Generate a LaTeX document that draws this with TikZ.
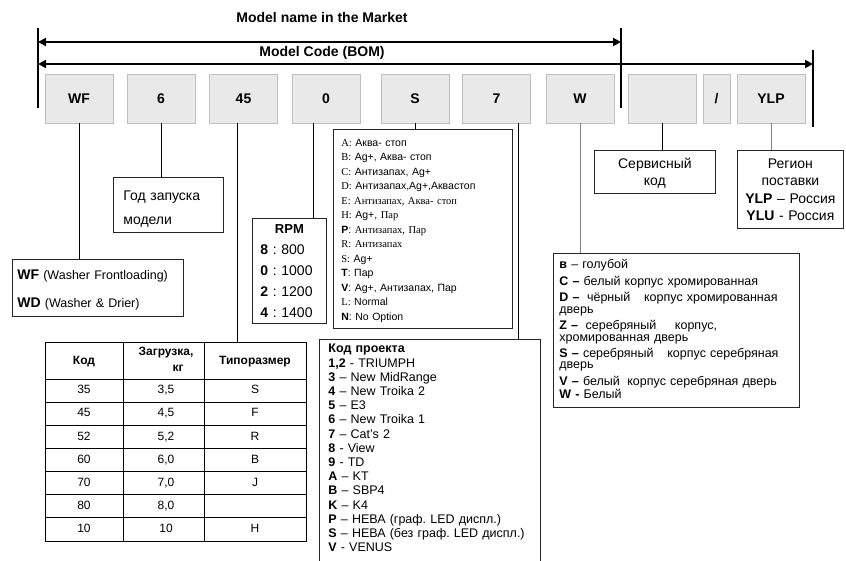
\documentclass[tikz,border=0pt]{standalone}
\usepackage{fontspec}
\setmainfont{Liberation Sans}
\newfontfamily\timesfont{Liberation Serif}
\usetikzlibrary{arrows.meta}
\frenchspacing

\begin{document}
\begin{tikzpicture}[x=1pt,y=-1pt,
  headtext/.style={font=\fontsize{14}{16}\selectfont\bfseries},
  codebox/.style={draw=gray!50,fill=gray!17,minimum width=68pt,minimum height=49pt,inner sep=0pt,
    font=\fontsize{14}{16}\selectfont\bfseries},
  note/.style={draw=black!85,line width=0.8pt,anchor=north west,inner ysep=0pt,align=left},
  stopline/.style={line width=2pt},
  dimline/.style={line width=2pt,{Triangle[length=8pt,width=8pt]}-{Triangle[length=8pt,width=8pt]}},
  leadline/.style={line width=0.8pt},
  cell/.style={font=\fontsize{12}{14}\selectfont,text height=9pt,text depth=2.5pt,inner sep=0pt},
  hcell/.style={font=\fontsize{12}{14}\selectfont\bfseries,text height=9pt,text depth=2.5pt,inner sep=0pt}]
  \useasboundingbox (0,0) rectangle (846,561);

  \node[headtext] (market) at (322,17) {Model name in the Market};
  \node[headtext] (bom) at (322,53) {Model Code (BOM)};

  \coordinate (mleft) at (38,42);
  \coordinate (mright) at (621,42);
  \coordinate (bleft) at (38,64);
  \coordinate (bright) at (813,64);
  \draw[stopline] (38,28) -- (38,108);
  \draw[stopline] (621,28) -- (621,108);
  \draw[stopline] (813,50) -- (813,127);
  \draw[dimline] (mleft) -- (mright);
  \draw[dimline] (bleft) -- (bright);

  \node[codebox] (wf) at (79,98.5) {WF};
  \node[codebox] (year) at (161,98.5) {6};
  \node[codebox] (load) at (243.5,98.5) {45};
  \node[codebox] (spin) at (326,98.5) {0};
  \node[codebox] (opt) at (415,98.5) {S};
  \node[codebox] (proj) at (496.5,98.5) {7};
  \node[codebox] (col) at (580,98.5) {W};
  \node[codebox] (svc) at (662,98.5) {};
  \node[codebox,minimum width=27pt] (slash) at (716.5,98.5) {/};
  \node[codebox] (reg) at (771,98.5) {YLP};

  \node[note,inner xsep=5pt,text width=161pt,text height=20.5pt,text depth=36.5pt,
    font=\fontsize{12.5}{28}\selectfont] (wfnote) at (12,259)
    {{\fontsize{14}{16}\selectfont\bfseries WF} (Washer Frontloading)\\
     {\fontsize{14}{16}\selectfont\bfseries WD} (Washer \& Drier)};

  \node[note,inner xsep=10pt,text width=90pt,text height=23pt,text depth=32pt,
    font=\fontsize{14}{24}\selectfont] (yearnote) at (113,177) {Год запуска\\ модели};

  \node[note,inner xsep=8pt,text width=58pt,text height=15pt,text depth=90pt,
    font=\fontsize{14}{21}\selectfont] (spinnote) at (252,218)
    {\makebox[58pt]{\bfseries\fontsize{13}{15}\selectfont RPM}\\
     \textbf{8} : 800\\ \textbf{0} : 1000\\ \textbf{2} : 1200\\ \textbf{4} : 1400};

  \node[note,inner xsep=8pt,text width=163pt,text height=17pt,text depth=182pt,
    font=\fontsize{10.5}{14.5}\selectfont] (optnote) at (333,129)
    {{\timesfont A:} Аква- стоп\\
     {\timesfont B:} Ag+, Аква- стоп\\
     {\timesfont C:} Антизапах, Ag+\\
     {\timesfont D:} Антизапах,Ag+,Аквастоп\\
     {\timesfont E: Антизапах, Аква- стоп}\\
     {\timesfont H:} Ag+, {\timesfont Пар}\\
     \textbf{P}: {\timesfont Антизапах, Пар}\\
     {\timesfont R: Антизапах}\\
     {\timesfont S:} Ag+\\
     \textbf{T}: Пар\\
     \textbf{V}: Ag+, Антизапах, Пар\\
     {\timesfont L:} Normal\\
     \textbf{N}: No Option};

  \node[note,inner xsep=9pt,text width=203pt,text height=13.5pt,text depth=230pt,
    font=\fontsize{12.5}{14.2}\selectfont] (projnote) at (319,339)
    {\textbf{Код проекта}\\
     \textbf{1,2} - TRIUMPH\\
     \textbf{3} – New MidRange\\
     \textbf{4} – New Troika 2\\
     \textbf{5} – E3\\
     \textbf{6} – New Troika 1\\
     \textbf{7} – Cat’s 2\\
     \textbf{8} - View\\
     \textbf{9} - TD\\
     \textbf{A} – KT\\
     \textbf{B} – SBP4\\
     \textbf{K} – K4\\
     \textbf{P} – НЕВА (граф. LED диспл.)\\
     \mbox{\textbf{S} – НЕВА (без граф. LED диспл.)}\\
     \textbf{V} - VENUS};

  \node[note,inner xsep=6pt,text width=234pt,text height=15.5pt,text depth=138.5pt,
    font=\fontsize{12.5}{11.5}\selectfont] (colnote) at (553,253)
    {\textbf{в} – голубой\\[3.5pt]
     \textbf{C –} белый корпус хромированная\\[3.5pt]
     \textbf{D –}\hspace{0.6em}чёрный\hspace{1.1em}корпус хромированная\\
     дверь\\[3.5pt]
     \textbf{Z –}\hspace{0.6em}серебряный\hspace{1.5em}корпус,\\
     хромированная дверь\\[3.5pt]
     \textbf{S –} серебряный\hspace{1.1em}корпус серебряная\\
     дверь\\[3.5pt]
     \textbf{V –} белый\hspace{0.6em}корпус серебряная дверь\\
     \textbf{W -} Белый};

  \node[note,inner xsep=5pt,text width=111pt,align=center,text height=18pt,text depth=25pt,
    font=\fontsize{14}{17}\selectfont] (svcnote) at (594,150) {Сервисный\\ код};

  \node[note,inner xsep=3pt,text width=100pt,align=center,text height=18pt,text depth=60pt,
    font=\fontsize{14}{17.5}\selectfont] (regnote) at (737,150)
    {Регион\\ поставки\\ \textbf{YLP} – Россия\\ \textbf{YLU} - Россия};

  \node[draw,line width=0.8pt,anchor=north west,minimum width=261pt,minimum height=199pt,inner sep=0pt] (sizes) at (45,342) {};
  \draw[leadline] (123,342) -- (123,541) (204,342) -- (204,541);
  \foreach \r in {0,...,6}
    \draw[leadline] (45,{379+23.14*\r}) -- (306,{379+23.14*\r});
  \node[hcell] (hcode) at (84,361) {Код};
  \node[hcell] (hload) at (166,352) {Загрузка,};
  \node[hcell] (hkg) at (178,368) {кг};
  \node[hcell] (hsize) at (255,361) {Типоразмер};
  \foreach \k/\m/\t [count=\r] in {35/{3,5}/S,45/{4,5}/F,52/{5,2}/R,60/{6,0}/B,70/{7,0}/J,80/{8,0}/{},10/10/H}{
    \node[cell] (k\r) at (84,{379+23.14*(\r-0.5)}) {\k};
    \node[cell] (m\r) at (166,{379+23.14*(\r-0.5)}) {\m};
    \node[cell] (t\r) at (255,{379+23.14*(\r-0.5)}) {\t};
  }

  \draw[leadline] (wf.south) -- (wf.south |- wfnote.north);
  \draw[leadline] (year.south) -- (year.south |- yearnote.north);
  \draw[leadline] ([xshift=-6.5pt]load.south) -- ([xshift=-6.5pt]load.south |- sizes.north);
  \draw[leadline] ([xshift=-13pt]spin.south) -- ([xshift=-13pt]spin.south |- spinnote.north);
  \draw[leadline] (opt.south) -- (opt.south |- optnote.north);
  \draw[leadline] ([xshift=22pt]proj.south) -- ([xshift=22pt]proj.south |- projnote.north);
  \draw[leadline,gray] (col.south) -- (col.south |- colnote.north);
  \draw[leadline] (svc.south) -- (svc.south |- svcnote.north);
  \draw[leadline,gray] (reg.south) -- (reg.south |- regnote.north);
\end{tikzpicture}
\end{document}
